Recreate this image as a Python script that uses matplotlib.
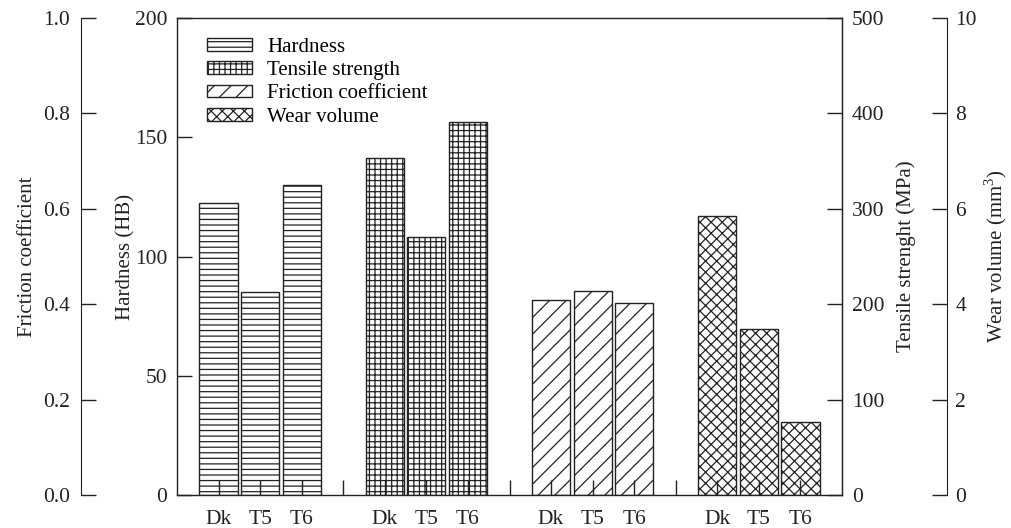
import matplotlib
matplotlib.use('Agg')
import matplotlib.pyplot as plt
import numpy as np

plt.rcParams['font.family'] = ['Liberation Serif', 'DejaVu Serif']
plt.rcParams['font.size'] = 15
plt.rcParams['hatch.linewidth'] = 0.9
plt.rcParams['hatch.color'] = '#222222'
plt.rcParams['mathtext.fontset'] = 'custom'
plt.rcParams['mathtext.rm'] = 'Liberation Serif'

# 数据
samples = ['Dk', 'T5', 'T6']
hardness = [122.3, 85.0, 130.0]          # HB
tensile = [353.6, 270.4, 391.3]          # MPa
friction = [0.409, 0.428, 0.402]
wear = [5.85, 3.47, 1.54]                # mm^3

ink = '#222222'
tick_fs = 15.5

fig = plt.figure(figsize=(10.11, 5.28), dpi=100)
ax = fig.add_axes([177/1011, 33/528, 665/1011, 477/528])
ax_f = ax.twinx()
ax_t = ax.twinx()
ax_w = ax.twinx()

pos_h = np.array([1, 2, 3])
pos_t = pos_h + 4
pos_f = pos_h + 8
pos_w = pos_h + 12
w = 0.92

b1 = ax.bar(pos_h, hardness, w, fill=False, hatch='---', edgecolor=ink, lw=1, label='Hardness')
b2 = ax_t.bar(pos_t, tensile, w, fill=False, hatch='+++', edgecolor=ink, lw=1, label='Tensile strength')
b3 = ax_f.bar(pos_f, friction, w, fill=False, hatch='//', edgecolor=ink, lw=1, label='Friction coefficient')
b4 = ax_w.bar(pos_w, wear, w, fill=False, hatch='xxx', edgecolor=ink, lw=1, label='Wear volume')

ax.set_xlim(0, 16)
ax.set_ylim(0, 200)
ax_f.set_ylim(0, 1.0)
ax_t.set_ylim(0, 500)
ax_w.set_ylim(0, 10)

# x 轴刻度 (组间加分隔刻度)
xt = [1, 2, 3, 4, 5, 6, 7, 8, 9, 10, 11, 12, 13, 14, 15]
xl = samples + [''] + samples + [''] + samples + [''] + samples
ax.set_xticks(xt)
ax.set_xticklabels(xl)
ax.tick_params(axis='x', direction='in', length=11, width=1, pad=10.5, colors=ink, labelsize=tick_fs)

# 主轴 (硬度)
ax.set_yticks(np.arange(0, 201, 50))
ax.tick_params(axis='y', direction='in', length=11, width=1, pad=7, colors=ink, labelsize=tick_fs)
for s in ax.spines.values():
    s.set_color(ink)
    s.set_linewidth(1)

# 摩擦系数轴
ax_f.yaxis.set_ticks_position('left')
ax_f.yaxis.set_label_position('left')
ax_f.spines['left'].set_position(('outward', 69))
for k in ['right', 'top', 'bottom']:
    ax_f.spines[k].set_visible(False)
ax_f.spines['left'].set_color(ink)
ax_f.set_yticks(np.arange(0, 1.01, 0.2))
ax_f.set_yticklabels([f'{v:.1f}' for v in np.arange(0, 1.01, 0.2)])
ax_f.tick_params(axis='y', direction='in', length=11, width=1, pad=8, colors=ink, labelsize=tick_fs)

# 抗拉强度轴
for k in ['left', 'top', 'bottom']:
    ax_t.spines[k].set_visible(False)
ax_t.spines['right'].set_color(ink)
ax_t.set_yticks(np.arange(0, 501, 100))
ax_t.tick_params(axis='y', direction='in', length=11, width=1, pad=7, colors=ink, labelsize=tick_fs)

# 磨损体积轴
ax_w.spines['right'].set_position(('outward', 75.5))
for k in ['left', 'top', 'bottom']:
    ax_w.spines[k].set_visible(False)
ax_w.spines['right'].set_color(ink)
ax_w.set_yticks(np.arange(0, 11, 2))
ax_w.tick_params(axis='y', direction='in', length=11, width=1, pad=6, colors=ink, labelsize=tick_fs)

# 轴标签
ax.set_ylabel('Hardness (HB)', color=ink)
ax.yaxis.set_label_coords(-0.063, 0.5)
ax_f.set_ylabel('Friction coefficient', color=ink)
ax_f.yaxis.set_label_coords(-0.21, 0.5)
ax_t.set_ylabel('Tensile strenght (MPa)', color=ink)
ax_t.yaxis.set_label_coords(1.081, 0.5)
ax_w.set_ylabel('Wear volume (mm$^3$)', color=ink)
ax_w.yaxis.set_label_coords(1.2105, 0.5)

# 图例
ax_w.legend(handles=[b1, b2, b3, b4], loc='upper left', bbox_to_anchor=(0.045, 0.958),
            frameon=False, fontsize=15, handlelength=2.16, handleheight=0.58,
            labelspacing=0.2, handletextpad=0.72, borderpad=0, borderaxespad=0)

fig.savefig('out.png', dpi=100)
